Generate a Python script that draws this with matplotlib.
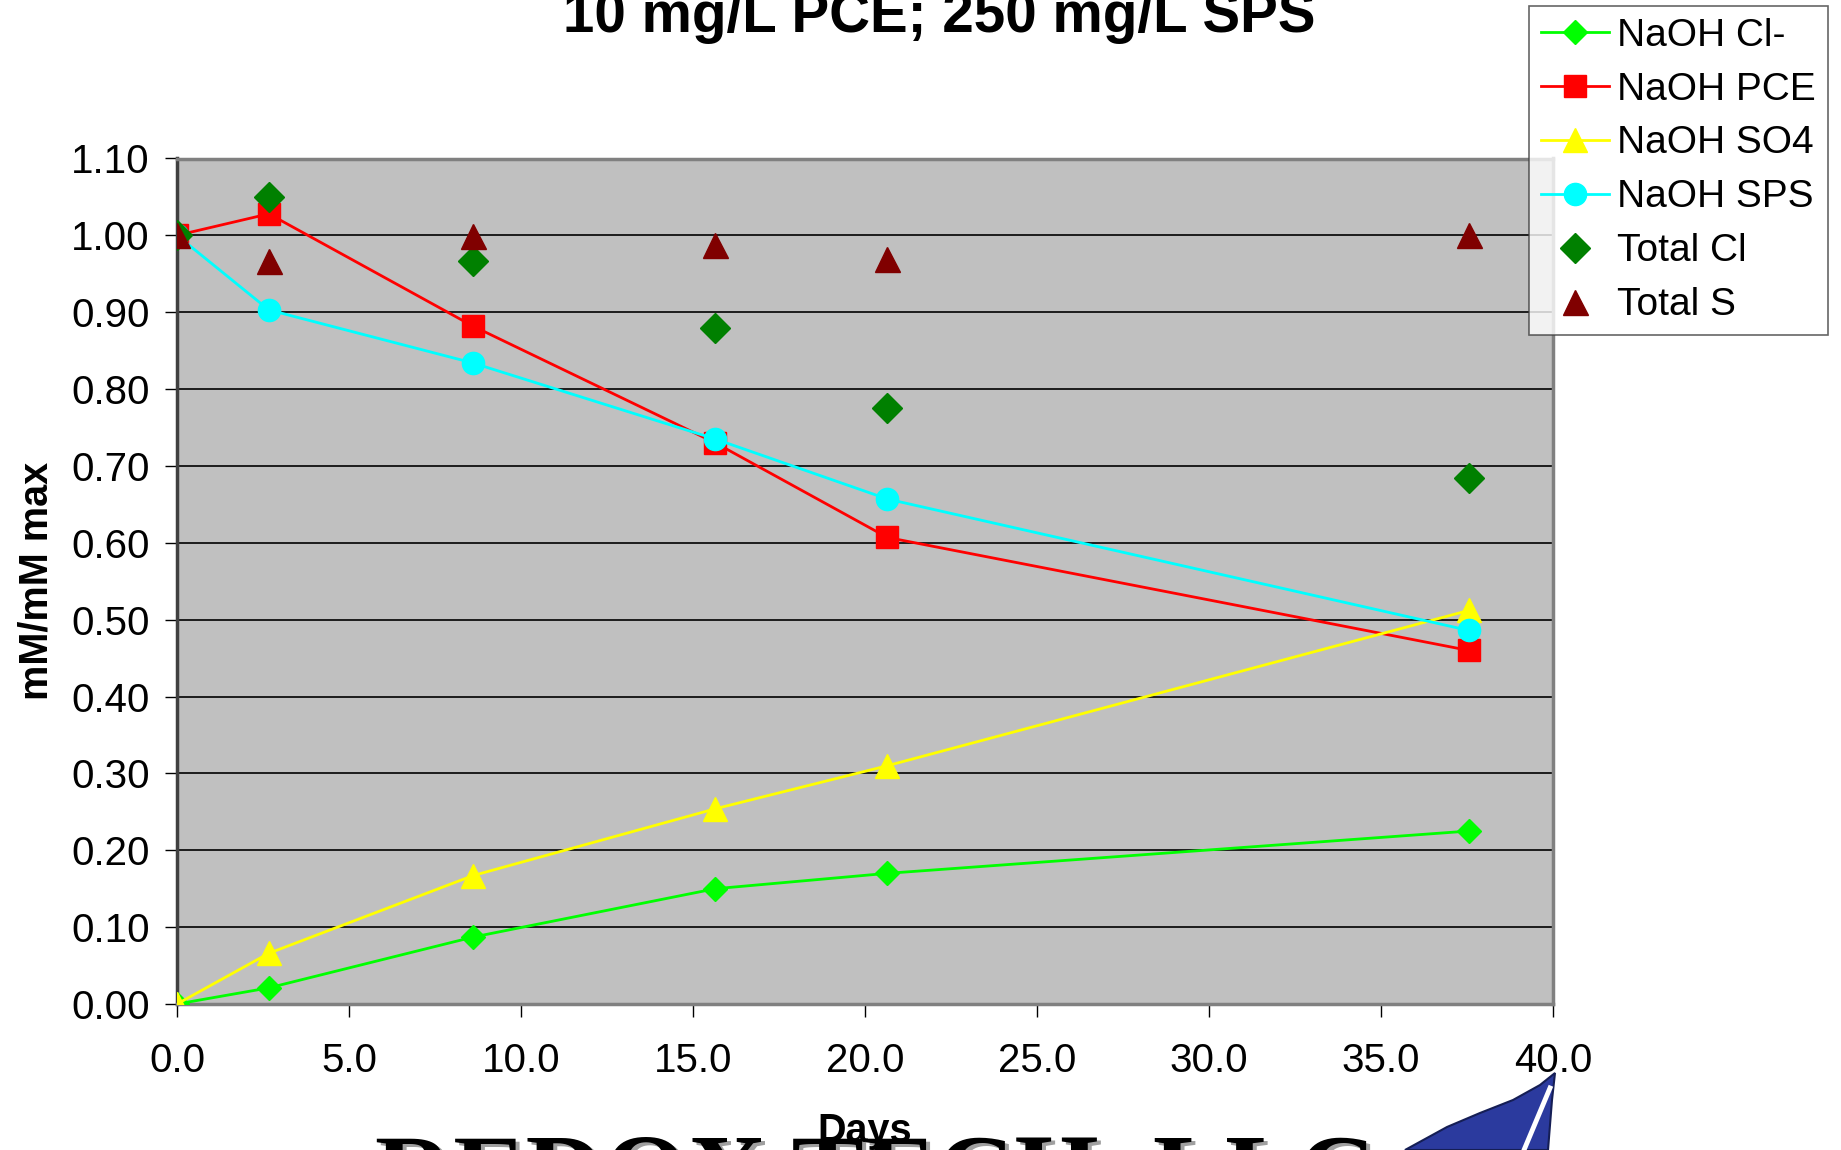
# -*- coding: utf-8 -*-
# Normalised concentrations vs time, NaOH activated persulfate test

import matplotlib
matplotlib.use("Agg")
from matplotlib import pyplot as plt
from matplotlib.patches import Polygon

# Data
days = [0.0, 2.67, 8.6, 15.65, 20.65, 37.55]
naoh_cl = [0.0, 0.021, 0.087, 0.150, 0.170, 0.225]
naoh_pce = [1.00, 1.028, 0.882, 0.730, 0.607, 0.460]
naoh_so4 = [0.0, 0.066, 0.167, 0.254, 0.310, 0.512]
naoh_sps = [1.00, 0.903, 0.834, 0.735, 0.657, 0.486]
total_cl = [1.00, 1.050, 0.967, 0.879, 0.776, 0.684]
total_s = [1.00, 0.967, 0.999, 0.988, 0.969, 1.00]

xticks = [0, 5, 10, 15, 20, 25, 30, 35, 40]
yticks = [0.0, 0.1, 0.2, 0.3, 0.4, 0.5, 0.6, 0.7, 0.8, 0.9, 1.0, 1.1]

plt.rcParams['font.family'] = ['Liberation Sans', 'DejaVu Sans']

W, H = 1841, 1150
fig = plt.figure(figsize=(W / 100, H / 100), dpi=100)
ax = fig.add_axes([177 / W, 1 - 1004 / H, 1376 / W, 845.5 / H])
ax.set_facecolor('#C0C0C0')

# lines with markers
ax.plot(days, naoh_cl, color='#00FF00', lw=2, marker='D', ms=12.5,
        mec='#00FF00', label='NaOH Cl-', zorder=4)
ax.plot(days, naoh_pce, color='#FF0000', lw=2, marker='s', ms=16,
        mec='#FF0000', label='NaOH PCE', zorder=4)
ax.plot(days, naoh_so4, color='#FFFF00', lw=2, marker='^', ms=17,
        mec='#FFFF00', label='NaOH SO4', zorder=4)
ax.plot(days, naoh_sps, color='#00FFFF', lw=2, marker='o', ms=16,
        mec='#00FFFF', label='NaOH SPS', zorder=4)
# markers only
ax.plot(days, total_cl, ls='none', marker='D', ms=15, color='#008000',
        label='Total Cl', zorder=5)
ax.plot(days, total_s, ls='none', marker='^', ms=18, color='#800000',
        label='Total S', zorder=5)

ax.set_xlim(0, 40)
ax.set_ylim(0, 1.1)
ax.set_xticks(xticks)
ax.set_xticklabels(['%.1f' % v for v in xticks])
ax.set_yticks(yticks)
ax.set_yticklabels(['%.2f' % v for v in yticks])
ax.yaxis.grid(True, color='black', lw=1.2)
ax.set_axisbelow(True)

ax.tick_params(axis='y', direction='out', length=8.5, width=1, labelsize=29, pad=11)
ax.tick_params(axis='x', direction='out', length=9, width=1, labelsize=29, pad=18)

for side in ['top', 'right']:
    ax.spines[side].set_color('#808080')
    ax.spines[side].set_linewidth(2.5)
ax.spines['left'].set_color('#404040')
ax.spines['left'].set_linewidth(2.5)
ax.spines['bottom'].set_color('#808080')
ax.spines['bottom'].set_linewidth(2.5)

ax.set_xlabel('Days', fontsize=28.5, fontweight='bold', va='top')
ax.xaxis.set_label_coords(0.5, -0.128)
ax.set_ylabel('mM/mM max', fontsize=28.5, fontweight='bold')
ax.yaxis.set_label_coords(-0.088, 0.5)

fig.text(939 / W, 1 - 32 / H, '10 mg/L PCE; 250 mg/L SPS', fontsize=40.7,
         fontweight='bold', ha='center', va='baseline')

leg = fig.legend(loc='upper left', bbox_to_anchor=(1529 / W, 1 - 6 / H),
                 fontsize=28, frameon=True, fancybox=False, borderpad=0.3,
                 labelspacing=0.46, handlelength=1.75, handletextpad=0.22,
                 borderaxespad=0)
leg.get_frame().set_edgecolor('#404040')
leg.get_frame().set_linewidth(1.2)
leg.set_zorder(10)

# company logo, cut off at the bottom edge, sits behind the axes labels
fig.text(879 / W, 1 - 1136 / H, 'REDOX TECH, LLC', fontsize=78,
         family='Liberation Serif', fontweight='bold', ha='center', va='top',
         color='#A0A0A0', zorder=-2)
fig.text(875 / W, 1 - 1133 / H, 'REDOX TECH, LLC', fontsize=78,
         family='Liberation Serif', fontweight='bold', ha='center', va='top',
         color='black', zorder=-1)
sail = [(1405, 1150), (1447, 1127), (1480, 1113), (1513, 1100), (1540, 1085),
        (1555, 1073), (1552, 1100), (1548, 1150)]
sail = [(x / W, 1 - y / H) for x, y in sail]
fig.patches.append(Polygon(sail, closed=True, transform=fig.transFigure,
                           facecolor='#2B3A9E', edgecolor='#151E55', lw=1.5,
                           zorder=-1))
fig.lines.append(plt.Line2D([1550 / W, 1524 / W], [1 - 1088 / H, 0.0],
                            transform=fig.transFigure, color='white', lw=3.5,
                            zorder=-0.5))

plt.savefig('out.png', dpi=100)
